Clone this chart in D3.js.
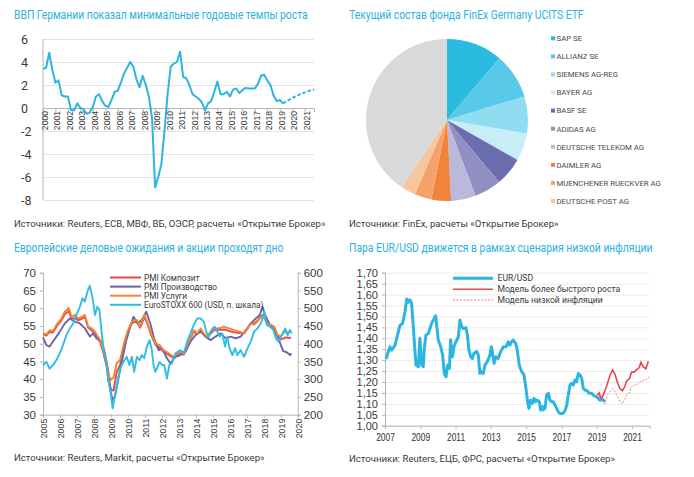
<!DOCTYPE html>
<html>
<head>
<meta charset="utf-8">
<script src="https://cdn.jsdelivr.net/npm/d3@7"></script>
<style>
body { margin: 0; background: #fff; }
svg { display: block; font-family: "Roboto", "Noto Sans", sans-serif; }
</style>
</head>
<body>
<svg id="chart" width="694" height="477"></svg>
<script>
// ---- ВВП Германии (квартальные темпы, % г/г)
const gdpYears = ['2000','2001','2002','2003','2004','2005','2006','2007','2008','2009','2010',
    '2011','2012','2013','2014','2015','2016','2017','2018','2019','2020','2021']
const gdpActual = [3.4, 3.5, 4.8, 3.3, 2.2, 2.4, 1.1, 1.0, 1.0, -0.2, -0.2, 0.4, 0.0, -0.1, -0.5, -0.4,
    0.1, 1.0, 1.2, 0.6, 0.2, 0.1, 0.7, 1.4, 1.5, 2.2, 3.0, 3.5, 4.0, 3.6, 2.5, 1.8,
    2.8, 2.0, 1.0, -0.9, -6.9, -6.0, -4.9, -2.0, 1.2, 3.6, 3.85, 4.0, 4.9, 2.7, 2.6, 2.0,
    1.2, 1.0, 0.8, 0.5, -0.2, 0.4, 0.6, 1.4, 2.3, 1.2, 1.2, 1.4, 1.0, 1.6, 1.7, 1.3,
    1.55, 1.75, 1.7, 1.7, 1.7, 2.1, 2.8, 2.9, 2.4, 2.0, 1.1, 0.6, 0.7, 0.4]
const gdpForecastQuarters = ['2019 Q2', '2020 Q2', '2021 Q2', '2021 Q4']
const gdpForecast = [0.4, 1.0, 1.45, 1.62]
const gdpTicks = [-8, -6, -4, -2, 0, 2, 4, 6]

// ---- состав фонда
const fundNames = ['SAP SE', 'ALLIANZ SE', 'SIEMENS AG-REG', 'BAYER AG', 'BASF SE', 'ADIDAS AG',
    'DEUTSCHE TELEKOM AG', 'DAIMLER AG', 'MUENCHENER RUECKVER AG', 'DEUTSCHE POST AG']
const fundWeights = [11.2, 9.1, 7.4, 5.5, 5.7, 5.4, 4.9, 3.9, 3.4, 2.9]
const fundOther = 40.6
const fundColors = ['#2bbbe1', '#58c9e8', '#90dcf0', '#c7edf7', '#6c6dae', '#9190c4', '#bab9dc',
    '#f0843b', '#f4a26b', '#f8c59d']
const otherColor = '#d9d9d9'

// ---- PMI и EuroSTOXX
const servicesDates = [2005.00, 2005.20, 2005.39, 2005.60, 2005.79, 2006.09, 2006.28, 2006.52, 2006.68, 2006.87,
    2007.07, 2007.27, 2007.47, 2007.66, 2007.86, 2008.06, 2008.36, 2008.55, 2008.75, 2008.85,
    2009.01, 2009.15, 2009.34, 2009.54, 2009.74, 2009.97, 2010.23, 2010.53, 2010.72, 2010.98,
    2011.16, 2011.32, 2011.61, 2011.87, 2012.10, 2012.40, 2012.70, 2012.99, 2013.29, 2013.49,
    2013.68, 2013.88, 2014.08, 2014.28, 2014.47, 2014.67, 2014.87, 2015.07, 2015.36, 2015.66,
    2015.95, 2016.25, 2016.55, 2016.84, 2017.04, 2017.24, 2017.43, 2017.63, 2017.83, 2018.03,
    2018.22, 2018.42, 2018.62, 2018.82, 2019.01, 2019.21, 2019.35, 2019.51, 2019.60]
const pmiServices = [52.9, 52.6, 53.8, 53.6, 55.3, 57.1, 59.0, 60.1, 57.6, 58.1,
    57.1, 57.6, 58.1, 54.8, 54.3, 53.4, 51.0, 48.2, 44.9, 41.2,
    39.8, 40.5, 44.5, 45.4, 49.6, 53.4, 56.2, 56.7, 54.8, 58.1,
    55.7, 53.4, 50.1, 49.6, 48.2, 47.3, 46.3, 47.7, 47.3, 49.6,
    51.5, 53.8, 52.9, 54.3, 52.9, 52.0, 53.4, 54.3, 54.3, 54.8,
    54.3, 53.8, 53.4, 52.9, 54.3, 55.7, 55.4, 56.2, 57.6, 57.1,
    55.7, 55.3, 54.8, 52.4, 52.0, 53.8, 52.9, 53.4, 53.4]
const pmiComposite = [52.7, 52.3, 53.3, 53.2, 54.8, 56.6, 58.3, 59.2, 57.0, 57.3,
    56.6, 57.0, 57.5, 54.5, 53.8, 52.6, 50.5, 47.5, 43.5, 39.5,
    37.0, 36.8, 42.0, 44.0, 48.5, 52.8, 55.8, 56.2, 54.5, 57.5,
    55.5, 53.0, 49.8, 48.8, 47.8, 46.8, 45.9, 47.3, 46.9, 49.4,
    51.4, 53.4, 52.8, 54.0, 52.7, 51.9, 52.8, 53.8, 53.9, 54.0,
    53.6, 53.2, 53.0, 52.9, 54.2, 55.8, 55.7, 56.5, 57.8, 58.1,
    55.5, 54.8, 54.0, 52.0, 51.2, 51.6, 51.8, 51.6, 51.8]
const manufDates = [2005.00, 2005.20, 2005.39, 2005.59, 2005.79, 2005.99, 2006.28, 2006.58, 2006.87, 2007.17,
    2007.47, 2007.76, 2007.96, 2008.16, 2008.45, 2008.65, 2008.85, 2008.99, 2009.10, 2009.24,
    2009.44, 2009.64, 2009.89, 2010.13, 2010.33, 2010.57, 2010.82, 2011.08, 2011.32, 2011.57,
    2011.81, 2012.01, 2012.30, 2012.50, 2012.80, 2013.09, 2013.39, 2013.68, 2013.98, 2014.28,
    2014.57, 2014.87, 2015.16, 2015.46, 2015.76, 2016.05, 2016.35, 2016.64, 2016.94, 2017.24,
    2017.53, 2017.77, 2017.93, 2018.08, 2018.32, 2018.62, 2018.82, 2019.01, 2019.15, 2019.35,
    2019.55, 2019.62]
const pmiManufacturing = [51.8, 49.6, 49.2, 50.6, 52.0, 53.4, 55.7, 57.1, 56.2, 55.7,
    54.3, 52.0, 52.9, 51.5, 50.6, 47.3, 42.1, 36.5, 34.1, 35.1,
    40.2, 44.9, 50.6, 54.8, 57.6, 55.7, 56.7, 59.0, 55.7, 51.0,
    48.2, 48.7, 45.9, 44.5, 46.3, 46.8, 47.7, 50.6, 52.4, 53.4,
    52.0, 51.0, 52.0, 52.9, 51.5, 52.0, 51.5, 52.0, 53.8, 55.7,
    57.1, 58.1, 60.4, 58.1, 55.7, 53.8, 52.0, 49.6, 47.9, 47.6,
    46.8, 47.3]
const stoxxDates = [2005.00, 2005.20, 2005.39, 2005.59, 2005.79, 2005.99, 2006.18, 2006.38, 2006.58, 2006.78,
    2006.97, 2007.17, 2007.33, 2007.47, 2007.61, 2007.76, 2007.92, 2008.06, 2008.20, 2008.32,
    2008.45, 2008.59, 2008.75, 2008.89, 2008.99, 2009.10, 2009.24, 2009.38, 2009.54, 2009.74,
    2009.93, 2010.09, 2010.23, 2010.37, 2010.53, 2010.68, 2010.82, 2010.96, 2011.12, 2011.28,
    2011.41, 2011.51, 2011.61, 2011.75, 2011.87, 2012.01, 2012.14, 2012.30, 2012.44, 2012.60,
    2012.80, 2013.09, 2013.29, 2013.49, 2013.68, 2013.88, 2014.08, 2014.28, 2014.47, 2014.61,
    2014.77, 2014.97, 2015.12, 2015.26, 2015.42, 2015.56, 2015.72, 2015.85, 2015.99, 2016.15,
    2016.31, 2016.45, 2016.64, 2016.84, 2017.04, 2017.24, 2017.43, 2017.63, 2017.83, 2018.03,
    2018.18, 2018.36, 2018.56, 2018.72, 2018.85, 2019.01, 2019.15, 2019.27, 2019.41, 2019.55,
    2019.64]
const euroStoxx = [340, 349, 330, 340, 354, 373, 396, 424, 443, 457,
    481, 504, 528, 518, 546, 563, 528, 481, 504, 495,
    434, 377, 340, 284, 260, 218, 255, 293, 330, 349,
    363, 340, 363, 321, 363, 354, 368, 359, 392, 410,
    382, 340, 321, 335, 349, 340, 340, 302, 340, 345,
    373, 382, 373, 406, 429, 453, 471, 471, 462, 434,
    420, 443, 448, 434, 420, 429, 392, 420, 387, 368,
    387, 368, 382, 363, 387, 406, 434, 443, 457, 490,
    453, 448, 439, 415, 406, 420, 429, 443, 424, 439,
    429]
const pmiTicks = [30, 35, 40, 45, 50, 55, 60, 65, 70]
const stoxxTicks = [200, 250, 300, 350, 400, 450, 500, 550, 600]
const pmiYearTicks = [2005, 2006, 2007, 2008, 2009, 2010, 2011, 2012, 2013, 2014, 2015, 2016, 2017, 2018, 2019, 2020]

// ---- EUR/USD
const eurDates = [2007.06, 2007.28, 2007.38, 2007.57, 2007.76, 2007.85, 2008.00, 2008.13, 2008.23, 2008.32,
    2008.42, 2008.51, 2008.61, 2008.70, 2008.76, 2008.89, 2008.98, 2009.08, 2009.17, 2009.23,
    2009.32, 2009.46, 2009.55, 2009.64, 2009.74, 2009.87, 2009.93, 2010.02, 2010.16, 2010.27,
    2010.36, 2010.46, 2010.55, 2010.65, 2010.72, 2010.82, 2010.91, 2011.02, 2011.16, 2011.25,
    2011.35, 2011.44, 2011.59, 2011.67, 2011.76, 2011.86, 2011.95, 2012.04, 2012.20, 2012.29,
    2012.38, 2012.48, 2012.57, 2012.67, 2012.80, 2012.95, 2013.03, 2013.10, 2013.18, 2013.29,
    2013.42, 2013.56, 2013.71, 2013.86, 2013.99, 2014.08, 2014.18, 2014.27, 2014.41, 2014.50,
    2014.61, 2014.75, 2014.88, 2014.99, 2015.07, 2015.16, 2015.26, 2015.35, 2015.45, 2015.54,
    2015.63, 2015.75, 2015.82, 2015.92, 2015.97, 2016.07, 2016.16, 2016.26, 2016.35, 2016.45,
    2016.54, 2016.64, 2016.73, 2016.82, 2016.92, 2017.07, 2017.20, 2017.30, 2017.39, 2017.49,
    2017.58, 2017.67, 2017.77, 2017.86, 2017.96, 2018.05, 2018.15, 2018.24, 2018.34, 2018.47,
    2018.58, 2018.71, 2018.81, 2018.96, 2019.09, 2019.19, 2019.28, 2019.37, 2019.47]
const eurUsd = [1.305, 1.361, 1.346, 1.369, 1.43, 1.46, 1.468, 1.52, 1.58, 1.564,
    1.575, 1.56, 1.445, 1.339, 1.278, 1.27, 1.40, 1.278, 1.27, 1.354,
    1.415, 1.422, 1.445, 1.468, 1.483, 1.503, 1.46, 1.392, 1.361, 1.323,
    1.239, 1.224, 1.278, 1.262, 1.392, 1.315, 1.361, 1.384, 1.407, 1.483,
    1.453, 1.445, 1.448, 1.415, 1.346, 1.315, 1.308, 1.331, 1.339, 1.323,
    1.239, 1.247, 1.239, 1.278, 1.293, 1.323, 1.361, 1.331, 1.285, 1.315,
    1.308, 1.339, 1.361, 1.361, 1.384, 1.369, 1.384, 1.392, 1.377, 1.346,
    1.278, 1.247, 1.232, 1.171, 1.117, 1.079, 1.117, 1.102, 1.125, 1.11,
    1.117, 1.11, 1.072, 1.087, 1.072, 1.079, 1.14, 1.148, 1.117, 1.11,
    1.11, 1.094, 1.079, 1.064, 1.056, 1.056, 1.067, 1.094, 1.14, 1.186,
    1.194, 1.186, 1.209, 1.201, 1.239, 1.232, 1.217, 1.171, 1.163, 1.159,
    1.148, 1.148, 1.14, 1.133, 1.125, 1.117, 1.125, 1.117, 1.11]
const fastDates = [2019.03, 2019.15, 2019.22, 2019.37, 2019.56, 2019.75, 2019.90, 2020.04, 2020.17, 2020.32,
    2020.45, 2020.57, 2020.70, 2020.85, 2020.98, 2021.11, 2021.26, 2021.40, 2021.51, 2021.64,
    2021.79, 2021.93]
const fastGrowth = [1.14, 1.15, 1.125, 1.14, 1.18, 1.23, 1.255, 1.235, 1.20, 1.17,
    1.16, 1.175, 1.205, 1.215, 1.245, 1.245, 1.255, 1.265, 1.29, 1.27,
    1.26, 1.295]
const lowDates = [2019.03, 2019.22, 2019.47, 2019.60, 2019.75, 2019.90, 2020.04, 2020.17, 2020.32, 2020.45,
    2020.57, 2020.70, 2020.83, 2020.98, 2021.11, 2021.26, 2021.45, 2021.60, 2021.74, 2021.87,
    2021.98]
const lowInflation = [1.14, 1.12, 1.10, 1.14, 1.155, 1.17, 1.155, 1.133, 1.11, 1.10,
    1.117, 1.14, 1.148, 1.178, 1.186, 1.186, 1.201, 1.209, 1.205, 1.217,
    1.222]
const eurTicks = [1.00, 1.05, 1.10, 1.15, 1.20, 1.25, 1.30, 1.35, 1.40, 1.45, 1.50, 1.55, 1.60, 1.65, 1.70]
const eurYearTicks = [2007, 2009, 2011, 2013, 2015, 2017, 2019, 2021]

const blue = '#2cb5e1'
const titleColor = '#2bb2e0'
const textColor = '#3a3a3a'
const axisColor = '#b5b5b5'
const svg = d3.select('#chart')

const addText = (x, y, t, size, color) => svg.append('text')
    .attr('x', x).attr('y', y).attr('font-size', size).attr('fill', color).text(t)
// the original uses a narrow face, so titles are squeezed horizontally
const addTitle = (x, y, t) => svg.append('text')
    .attr('transform', `translate(${x},${y}) scale(0.81,1)`)
    .attr('font-size', 12.8).attr('fill', titleColor).text(t)

// ================= panel 1: GDP =================
addTitle(14, 19, 'ВВП Германии показал минимальные годовые темпы роста')
addText(14, 227, 'Источники: Reuters, ЕСВ, МВФ, ВБ, ОЭСР, расчеты «Открытие Брокер»', 9.6, textColor)

const quarters = gdpYears.flatMap(y => ['Q1', 'Q2', 'Q3', 'Q4'].map(q => y + ' ' + q))
const x1 = d3.scalePoint().domain(quarters).range([43, 314])
const y1 = d3.scaleLinear().domain([-8, 6]).range([200, 39])

svg.append('g').attr('transform', 'translate(43,0)')
    .call(d3.axisLeft(y1).tickValues(gdpTicks).tickSize(-271).tickFormat(''))
    .call(g => g.select('.domain').remove())
    .call(g => g.selectAll('line').attr('stroke', '#e4e4e4'))
svg.append('line').attr('x1', 43).attr('x2', 43).attr('y1', y1(6)).attr('y2', y1(-8)).attr('stroke', axisColor)
svg.append('g').selectAll('text').data(gdpTicks).join('text')
    .attr('x', 21).attr('y', d => y1(d) + 4.5)
    .attr('font-size', 12.5).attr('fill', textColor)
    .text(d => d)

svg.append('g').attr('transform', `translate(0,${y1(0)})`)
    .call(d3.axisBottom(x1).tickValues(quarters.filter(q => q.endsWith('Q1'))).tickSize(4).tickFormat(q => q.slice(0, 4)))
    .call(g => g.select('.domain').attr('stroke', axisColor))
    .call(g => g.selectAll('line').attr('stroke', axisColor))
    .call(g => g.selectAll('text')
        .attr('transform', 'rotate(-90)').attr('text-anchor', 'end')
        .attr('x', -3).attr('y', 1.5).attr('dy', '0.35em')
        .attr('font-size', 8.6).attr('fill', textColor))

const gdpLine = d3.line().x(d => x1(d[0])).y(d => y1(d[1]))
svg.append('path')
    .datum(gdpActual.map((v, i) => [quarters[i], v]))
    .attr('d', gdpLine).attr('fill', 'none').attr('stroke', blue).attr('stroke-width', 2)
    .attr('stroke-linejoin', 'round')
svg.append('path')
    .datum(gdpForecastQuarters.map((q, i) => [q, gdpForecast[i]]))
    .attr('d', gdpLine.curve(d3.curveMonotoneX)).attr('fill', 'none').attr('stroke', blue).attr('stroke-width', 2)
    .attr('stroke-dasharray', '3.5,2')

// ================= panel 2: pie =================
addTitle(349, 19, 'Текущий состав фонда FinEx Germany UCITS ETF')
addText(349, 227, 'Источники: FinEx, расчеты «Открытие Брокер»', 9.6, textColor)

const pieValues = fundWeights.concat([fundOther])
const pieColors = fundColors.concat([otherColor])
const arcs = d3.pie().sort(null).value(d => d)(pieValues)
const arc = d3.arc().innerRadius(0).outerRadius(81)
svg.append('g').attr('transform', 'translate(447,120)')
    .selectAll('path').data(arcs).join('path')
    .attr('d', arc).attr('fill', (d, i) => pieColors[i])

const legendY = d3.scalePoint().domain(fundNames).range([38.3, 201])
const pieLegend = svg.append('g').selectAll('g').data(fundNames).join('g')
    .attr('transform', d => `translate(551,${legendY(d)})`)
pieLegend.append('rect').attr('x', 0).attr('y', -2).attr('width', 4).attr('height', 4)
    .attr('fill', (d, i) => fundColors[i])
pieLegend.append('text').attr('x', 5.5).attr('y', 2.8).attr('font-size', 7.8).attr('fill', '#4a4a4a').text(d => d)

// ================= panel 3: PMI =================
addTitle(14, 252, 'Европейские деловые ожидания и акции проходят дно')
addText(14, 461, 'Источники: Reuters, Markit, расчеты «Открытие Брокер»', 9.6, textColor)

const x3 = d3.scaleLinear().domain([2005, 2020]).range([43, 297.7])
const y3 = d3.scaleLinear().domain([30, 70]).range([414.7, 272.7])
const y3r = d3.scaleLinear().domain([200, 600]).range([414.7, 272.7])

svg.append('g').attr('transform', 'translate(43,0)')
    .call(d3.axisLeft(y3).tickValues(pmiTicks).tickSize(3).tickPadding(4))
    .call(g => g.selectAll('line,.domain').attr('stroke', axisColor))
    .call(g => g.selectAll('text').attr('font-size', 11.5).attr('fill', textColor))
svg.append('g').attr('transform', 'translate(297.7,0)')
    .call(d3.axisRight(y3r).tickValues(stoxxTicks).tickSize(3).tickPadding(3))
    .call(g => g.selectAll('line,.domain').attr('stroke', axisColor))
    .call(g => g.selectAll('text').attr('font-size', 11.5).attr('fill', textColor))
svg.append('g').attr('transform', 'translate(0,414.7)')
    .call(d3.axisBottom(x3).tickValues(pmiYearTicks).tickSize(3).tickFormat(d3.format('d')))
    .call(g => g.selectAll('line,.domain').attr('stroke', axisColor))
    .call(g => g.selectAll('text')
        .attr('transform', 'rotate(-90)').attr('text-anchor', 'end')
        .attr('x', -4).attr('y', 0.5).attr('dy', '0.35em')
        .attr('font-size', 8.8).attr('fill', textColor))

const pmiLine = (dates, ys) => d3.line().x((d, i) => x3(dates[i])).y(d => ys(d))
const pmiSeries = [
    { name: 'PMI Композит', dates: servicesDates, values: pmiComposite, color: '#e8464e', scale: y3 },
    { name: 'PMI Производство', dates: manufDates, values: pmiManufacturing, color: '#6c62ac', scale: y3 },
    { name: 'PMI Услуги', dates: servicesDates, values: pmiServices, color: '#f18532', scale: y3 },
    { name: 'EuroSTOXX 600 (USD, п. шкала)', dates: stoxxDates, values: euroStoxx, color: '#2fbde4', scale: y3r }
]
pmiSeries.forEach(s => {
    svg.append('path').datum(s.values)
        .attr('d', pmiLine(s.dates, s.scale))
        .attr('fill', 'none').attr('stroke', s.color).attr('stroke-width', 1.9).attr('stroke-linejoin', 'round')
})
const leg3 = svg.append('g').selectAll('g').data(pmiSeries).join('g')
    .attr('transform', (d, i) => `translate(110,${277.5 + i * 9.1})`)
leg3.append('line').attr('x1', 0).attr('x2', 31).attr('stroke', d => d.color).attr('stroke-width', 2)
leg3.append('text').attr('x', 34).attr('y', 3).attr('font-size', 8.3).attr('fill', textColor).text(d => d.name)

// ================= panel 4: EUR/USD =================
addTitle(349, 252, 'Пара EUR/USD движется в рамках сценария низкой инфляции')
addText(349, 462, 'Источники: Reuters, ЕЦБ, ФРС, расчеты «Открытие Брокер»', 9.6, textColor)

const x4 = d3.scaleLinear().domain([2007, 2022]).range([385, 649.6])
const y4 = d3.scaleLinear().domain([1.00, 1.70]).range([425.7, 272.7])
const commaFmt = d => d3.format('.2f')(d).replace('.', ',')

svg.append('g').attr('transform', 'translate(385,0)')
    .call(d3.axisLeft(y4).tickValues(eurTicks).tickSize(-264.6).tickFormat(''))
    .call(g => g.select('.domain').remove())
    .call(g => g.selectAll('line').attr('stroke', '#ececec'))
svg.append('g').attr('transform', 'translate(385,0)')
    .call(d3.axisLeft(y4).tickValues(eurTicks).tickSize(3).tickPadding(4).tickFormat(commaFmt))
    .call(g => g.selectAll('line,.domain').attr('stroke', axisColor))
    .call(g => g.selectAll('text').attr('font-size', 11).attr('fill', textColor))
svg.append('g').attr('transform', 'translate(0,425.7)')
    .call(d3.axisBottom(x4).tickValues(eurYearTicks).tickSize(3).tickPadding(5).tickFormat(d3.format('d')))
    .call(g => g.selectAll('line,.domain').attr('stroke', axisColor))
    .call(g => g.selectAll('text').attr('font-size', 10.5).attr('font-weight', 500)
        .attr('transform', 'scale(0.8,1)').attr('fill', '#2e2e2e'))

const eurLine = dates => d3.line().x((d, i) => x4(dates[i])).y(d => y4(d))
svg.append('path').datum(eurUsd).attr('d', eurLine(eurDates))
    .attr('fill', 'none').attr('stroke', blue).attr('stroke-width', 3).attr('stroke-linejoin', 'round')
svg.append('path').datum(fastGrowth).attr('d', eurLine(fastDates))
    .attr('fill', 'none').attr('stroke', '#e8474f').attr('stroke-width', 1.6)
svg.append('path').datum(lowInflation).attr('d', eurLine(lowDates))
    .attr('fill', 'none').attr('stroke', '#ee7b80').attr('stroke-width', 1).attr('stroke-dasharray', '2,1.5')

const eurLegend = [
    { name: 'EUR/USD', color: blue, width: 3, dash: null },
    { name: 'Модель более быстрого роста', color: '#e8474f', width: 1.6, dash: null },
    { name: 'Модель низкой инфляции', color: '#ee7b80', width: 1, dash: '2,1.5' }
]
const leg4 = svg.append('g').selectAll('g').data(eurLegend).join('g')
    .attr('transform', (d, i) => `translate(453,${278.3 + i * 10.9})`)
leg4.append('line').attr('x1', 0).attr('x2', 40).attr('stroke', d => d.color)
    .attr('stroke-width', d => d.width).attr('stroke-dasharray', d => d.dash)
leg4.append('text').attr('x', 44.5).attr('y', 3).attr('font-size', 8.6).attr('fill', textColor).text(d => d.name)
</script>
</body>
</html>
